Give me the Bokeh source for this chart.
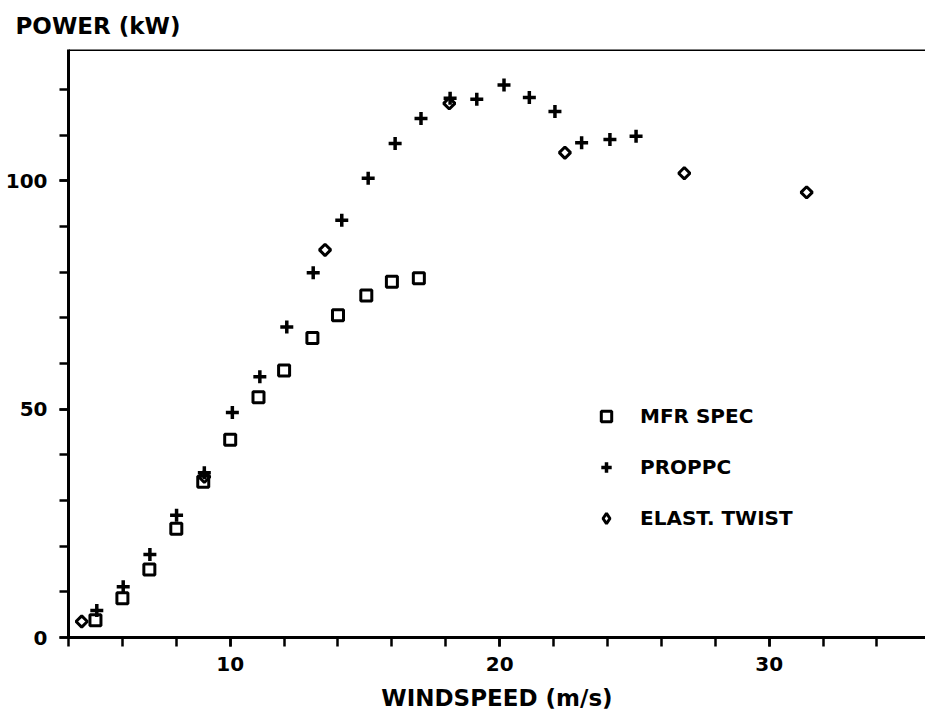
import math
from bokeh.plotting import figure
from bokeh.models import FixedTicker, Span, Legend, LegendItem, Range1d
from bokeh.embed import file_html
from bokeh.resources import INLINE

# ---- data ----
mfr_x = [5, 6, 7, 8, 9, 10, 11.05, 12, 13.05, 14, 15.05, 16, 17]
mfr_y = [3.8, 8.6, 14.9, 23.8, 34.1, 43.3, 52.6, 58.5, 65.6, 70.6, 74.9, 77.9, 78.7]

prop_x = [5.05, 6.03, 7.02, 8.01, 9.04, 10.08, 11.1, 12.1, 13.08, 14.14, 15.12,
          16.12, 17.08, 18.16, 19.15, 20.16, 21.1, 22.05, 23.04, 24.09, 25.06]
prop_y = [5.9, 11.1, 18.2, 26.8, 36.1, 49.3, 57.1, 68.0, 79.9, 91.4, 100.6,
          108.2, 113.7, 118.1, 117.9, 121.0, 118.3, 115.2, 108.4, 109.1, 109.8]

elast_x = [4.49, 9.04, 13.52, 18.13, 22.42, 26.85, 31.39]
elast_y = [3.5, 35.2, 84.9, 117.0, 106.2, 101.7, 97.5]

series_labels = ["MFR SPEC", "PROPPC", "ELAST. TWIST"]
x_major = [10, 20, 30]
x_minor = list(range(4, 36, 2))
y_major = [0, 50, 100]
y_minor = list(range(0, 130, 10))

FONT = "DejaVu Sans"

p = figure(width=925, height=717,
           x_range=Range1d(4, 35.8), y_range=Range1d(0, 128.8),
           output_backend="svg", toolbar_location=None,
           min_border_left=68, min_border_right=0,
           min_border_top=49, min_border_bottom=80)

p.background_fill_color = "white"
p.border_fill_color = "white"
p.outline_line_color = None
p.xgrid.grid_line_color = None
p.ygrid.grid_line_color = None

# caption at top-left
p.title.text = "POWER (kW)"
p.title.align = "left"
p.title.vertical_align = "top"
p.title.offset = -53
p.title.text_font = FONT
p.title.text_font_style = "bold"
p.title.text_font_size = "23px"
p.title.text_color = "black"
p.title.standoff = 18

# axes
for ax, maj, mnr in ((p.xaxis, x_major, x_minor), (p.yaxis, y_major, y_minor)):
    ax.ticker = FixedTicker(ticks=maj, minor_ticks=mnr)
    ax.axis_line_width = 3
    ax.axis_line_color = "black"
    ax.major_tick_in = 0
    ax.minor_tick_in = 0
    ax.major_tick_out = 9
    ax.minor_tick_out = 9
    ax.major_tick_line_width = 2.5
    ax.minor_tick_line_width = 2.5
    ax.major_tick_line_color = "black"
    ax.minor_tick_line_color = "black"
    ax.major_label_text_font = FONT
    ax.major_label_text_font_style = "bold"
    ax.major_label_text_font_size = "20px"
    ax.major_label_text_color = "black"

p.xaxis.major_label_standoff = 10
p.yaxis.major_label_standoff = 12
p.xaxis.axis_label = "WINDSPEED (m/s)"
p.xaxis.axis_label_text_font = FONT
p.xaxis.axis_label_text_font_style = "bold"
p.xaxis.axis_label_text_font_size = "23px"
p.xaxis.axis_label_text_color = "black"
p.xaxis.axis_label_standoff = 11

# top border line
p.add_layout(Span(location=128.8, dimension="width", line_color="black", line_width=3))

r1 = p.scatter(mfr_x, mfr_y, marker="square", size=11, fill_color=None,
               line_color="black", line_width=3)
r2 = p.scatter(prop_x, prop_y, marker="cross", size=13, line_color="black", line_width=3.5)
r3 = p.scatter(elast_x, elast_y, marker="square", angle=math.pi / 4, size=8,
               fill_color=None, line_color="black", line_width=3)
# legend swatch for the diamond series (hidden in the plot, shown only in the legend)
r3_key = p.scatter(elast_x, elast_y, marker="diamond", size=12,
                   fill_color=None, line_color="black", line_width=3, visible=False)

legend = Legend(items=[LegendItem(label=series_labels[0], renderers=[r1]),
                       LegendItem(label=series_labels[1], renderers=[r2]),
                       LegendItem(label=series_labels[2], renderers=[r3_key])],
                location=(525, 106), orientation="vertical",
                glyph_width=26, glyph_height=26, label_height=26,
                spacing=25, label_standoff=21, padding=0, margin=0,
                border_line_color=None, background_fill_alpha=0,
                inactive_fill_alpha=0,
                label_text_font=FONT, label_text_font_style="bold",
                label_text_font_size="20px", label_text_color="black")
p.add_layout(legend)

open("out.html", "w").write(file_html(p, INLINE))
